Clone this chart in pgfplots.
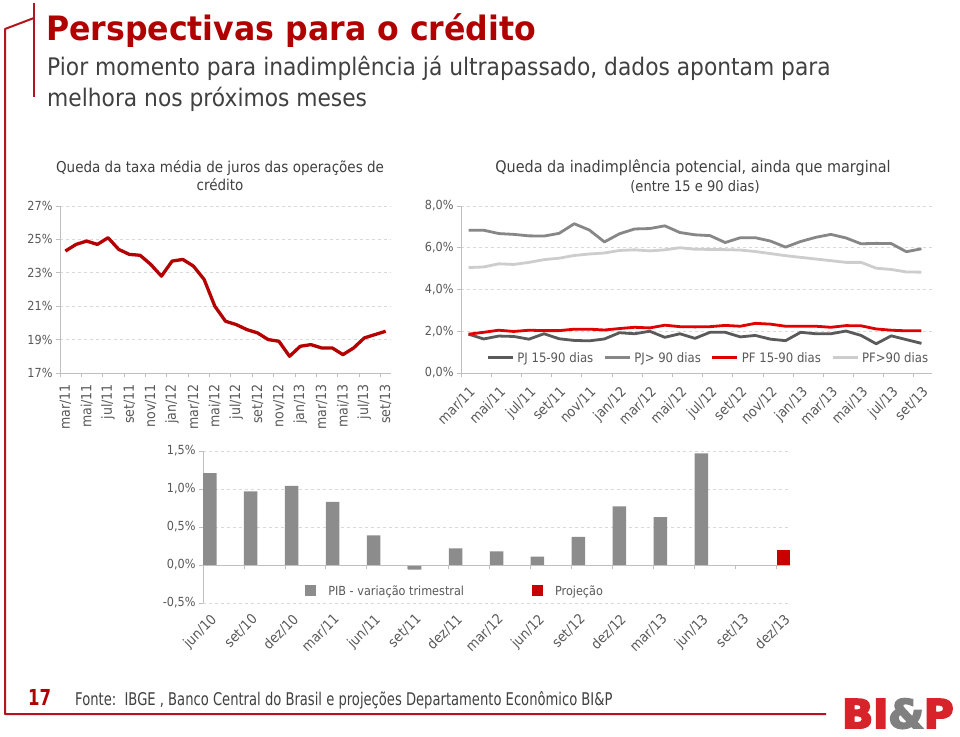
\documentclass[border=0pt]{standalone}
\usepackage{graphicx}
\usepackage{pgfplots}
\pgfplotsset{compat=1.18}
\usepackage{fontspec}
\setmainfont{DejaVu Sans}[FakeStretch=0.9]
\newfontfamily\titlefont{DejaVu Sans}[FakeStretch=0.94]
\newfontfamily\condfont{DejaVu Sans}[FakeStretch=0.75]
\newfontface\logofont{DejaVu Sans Bold}[FakeStretch=1.03, FakeBold=5]
\definecolor{frame}{RGB}{180,20,30}
\definecolor{titlered}{RGB}{176,0,0}
\definecolor{txt}{RGB}{64,64,64}
\definecolor{tickc}{RGB}{89,89,89}
\definecolor{axisgray}{RGB}{191,191,191}
\definecolor{gridgray}{RGB}{217,217,217}
\definecolor{darkred}{RGB}{180,0,0}
\definecolor{brightred}{RGB}{225,0,0}
\definecolor{pjA}{RGB}{90,90,90}
\definecolor{pjB}{RGB}{135,135,135}
\definecolor{pfB}{RGB}{205,205,205}
\definecolor{bargray}{RGB}{140,140,140}
\definecolor{barred}{RGB}{200,0,0}
\definecolor{logored}{RGB}{215,35,42}
\definecolor{logogray}{RGB}{128,128,128}
\pgfplotsset{
  slide/.style={
    scale only axis,
    axis lines*=left,
    axis line style={axisgray, line width=0.8pt},
    ymajorgrids,
    grid style={gridgray, dashed, line width=0.6pt},
    tick style={axisgray, line width=0.8pt},
    major tick length=4pt,
    minor tick length=4pt,
    tick align=outside,
    major x tick style={draw=none},
    yticklabel style={font=\fontsize{12.5}{12.5}\selectfont, text=tickc},
    xticklabel style={font=\fontsize{14}{14}\selectfont, text=tickc},
    clip=false,
  },
}
\pgfplotstableread{
x jur
0 24.3
1 24.7
2 24.9
3 24.7
4 25.1
5 24.4
6 24.1
7 24.05
8 23.5
9 22.8
10 23.7
11 23.8
12 23.4
13 22.6
14 21.0
15 20.1
16 19.9
17 19.6
18 19.4
19 19.0
20 18.9
21 18.0
22 18.6
23 18.7
24 18.5
25 18.5
26 18.1
27 18.5
28 19.1
29 19.3
30 19.5
}\juros
\pgfplotstableread{
x pj15 pj90 pf15 pf90
0 1.86 6.84 1.86 5.05
1 1.63 6.84 1.95 5.08
2 1.77 6.68 2.05 5.23
3 1.75 6.64 1.99 5.20
4 1.62 6.57 2.05 5.30
5 1.88 6.56 2.03 5.43
6 1.64 6.69 2.03 5.50
7 1.56 7.15 2.10 5.63
8 1.54 6.85 2.10 5.70
9 1.63 6.28 2.06 5.75
10 1.93 6.67 2.13 5.87
11 1.88 6.90 2.19 5.90
12 2.00 6.92 2.16 5.85
13 1.71 7.05 2.29 5.90
14 1.88 6.73 2.22 6.00
15 1.66 6.62 2.21 5.93
16 1.95 6.58 2.22 5.92
17 1.95 6.25 2.28 5.91
18 1.73 6.48 2.24 5.89
19 1.80 6.48 2.38 5.82
20 1.62 6.32 2.34 5.72
21 1.55 6.03 2.24 5.62
22 1.95 6.30 2.24 5.54
23 1.88 6.50 2.24 5.46
24 1.88 6.64 2.19 5.38
25 2.01 6.47 2.27 5.30
26 1.80 6.19 2.26 5.30
27 1.40 6.21 2.11 5.02
28 1.78 6.20 2.05 4.96
29 1.60 5.81 2.02 4.84
30 1.42 5.95 2.02 4.83
}\inad
\begin{document}
\begin{tikzpicture}[x=1pt,y=1pt]
\path[use as bounding box, fill=white] (0,0) rectangle (960,736);
% frame lines
\draw[frame, line width=2pt] (34,733) -- (34,639);
\draw[frame, line width=2pt, line join=round] (34,718) -- (5,707) -- (5,22) -- (826,22);
% titles
\node[anchor=base west, text=titlered, font=\titlefont\bfseries\fontsize{33.6}{34}\selectfont, inner sep=0pt] at (46,695) {Perspectivas para o crédito};
\node[anchor=base west, text=txt, font=\fontsize{24.2}{24}\selectfont, inner sep=0pt] at (47,660) {Pior momento para inadimplência já ultrapassado, dados apontam para};
\node[anchor=base west, text=txt, font=\fontsize{24.2}{24}\selectfont, inner sep=0pt] at (47,629) {melhora nos próximos meses};
% chart titles
\node[anchor=base, text=txt, font=\fontsize{15}{15}\selectfont, inner sep=0pt] at (220,563) {Queda da taxa média de juros das operações de};
\node[anchor=base, text=txt, font=\fontsize{15}{15}\selectfont, inner sep=0pt] at (220,545) {crédito};
\node[anchor=base, text=txt, font=\fontsize{16}{16}\selectfont, inner sep=0pt] at (693,563) {Queda da inadimplência potencial, ainda que marginal};
\node[anchor=base, text=txt, font=\fontsize{14.5}{14.5}\selectfont, inner sep=0pt] at (695,544) {(entre 15 e 90 dias)};
% footer
\node[anchor=base west, text=titlered, font=\condfont\bfseries\fontsize{22}{22}\selectfont, inner sep=0pt] at (28,31) {17};
\node[anchor=base west, text=txt, font=\condfont\fontsize{17.5}{17.5}\selectfont, inner sep=0pt] at (75,31) {Fonte:\ \ IBGE , Banco Central do Brasil e projeções Departamento Econômico BI\&P};
\node[anchor=base west, inner sep=0pt, font=\logofont\fontsize{39.5}{39.5}\selectfont] at (842,8) {{\color{logored}BI}{\color{logogray}\&}{\color{logored}P}};
% left chart
\begin{axis}[slide,
  at={(60pt,363pt)}, anchor=south west,
  width=331pt, height=167pt,
  xmin=-0.5, xmax=30.5, ymin=17, ymax=27,
  ytick={17,19,21,23,25,27},
  yticklabels={17\%,19\%,21\%,23\%,25\%,27\%},
  xtick={0,2,...,30},
  xticklabels={mar/11,mai/11,jul/11,set/11,nov/11,jan/12,mar/12,mai/12,jul/12,set/12,nov/12,jan/13,mar/13,mai/13,jul/13,set/13},
  minor xtick={-0.5,1.5,...,29.5},
  xticklabel style={rotate=90, anchor=east, inner sep=1pt, xshift=-6pt},
]
\addplot[darkred, line width=3.3pt, line join=round, no marks] table[x=x, y=jur] {\juros};
\end{axis}
% right chart
\begin{axis}[slide,
  at={(461pt,363pt)}, anchor=south west,
  width=471pt, height=167pt,
  xmin=-0.5, xmax=30.7, ymin=0, ymax=8,
  ytick={0,2,4,6,8},
  yticklabels={{0,0\%},{2,0\%},{4,0\%},{6,0\%},{8,0\%}},
  xtick={0,2,...,30},
  xticklabels={mar/11,mai/11,jul/11,set/11,nov/11,jan/12,mar/12,mai/12,jul/12,set/12,nov/12,jan/13,mar/13,mai/13,jul/13,set/13},
  minor xtick={-0.5,1.5,...,29.5},
  xticklabel style={rotate=45, anchor=north east, inner sep=6pt},
  legend columns=4,
  legend style={at={(0.525,0.09)}, anchor=center, draw=none, fill=none,
    font=\fontsize{13}{13}\selectfont, text=tickc, inner sep=0pt,
    /tikz/every even column/.append style={column sep=8pt},
    /tikz/every odd column/.append style={column sep=1pt}},
  legend image code/.code={\draw[#1, line width=3pt] (0pt,0pt) -- (25pt,0pt);},
]
\addplot[pjA, line width=2.8pt, line join=round, no marks] table[x=x, y=pj15] {\inad};
\addlegendentry{PJ 15-90 dias}
\addplot[pjB, line width=2.8pt, line join=round, no marks] table[x=x, y=pj90] {\inad};
\addlegendentry{PJ> 90 dias}
\addplot[brightred, line width=2.8pt, line join=round, no marks] table[x=x, y=pf15] {\inad};
\addlegendentry{PF 15-90 dias}
\addplot[pfB, line width=2.8pt, line join=round, no marks] table[x=x, y=pf90] {\inad};
\addlegendentry{PF>90 dias}
\end{axis}
% bottom chart
\begin{axis}[slide,
  at={(203pt,133pt)}, anchor=south west,
  width=587pt, height=152pt,
  x axis line style={draw=none},
  xmin=-0.165, xmax=14.165, ymin=-0.5, ymax=1.5,
  ytick={-0.5,0,0.5,1,1.5},
  yticklabels={{-0,5\%},{0,0\%},{0,5\%},{1,0\%},{1,5\%}},
  xtick={0,...,14},
  xticklabels={jun/10,set/10,dez/10,mar/11,jun/11,set/11,dez/11,mar/12,jun/12,set/12,dez/12,mar/13,jun/13,set/13,dez/13},
  xticklabel style={rotate=45, anchor=north east, inner sep=4pt},
  ybar, bar width=13.5pt,
  legend columns=2,
  legend style={at={(0.174,0.079)}, anchor=west, draw=none, fill=none,
    font=\fontsize{12.5}{12.5}\selectfont, text=tickc, inner sep=0pt,
    /tikz/every even column/.append style={column sep=66pt},
    /tikz/every odd column/.append style={column sep=10pt}},
  legend image code/.code={\fill[#1] (0pt,-5.5pt) rectangle (11pt,5.5pt);},
]
\addplot[ybar, bar shift=0pt, fill=bargray, draw=none] coordinates {
(0,1.21) (1,0.97) (2,1.04) (3,0.83) (4,0.39) (5,-0.06) (6,0.22) (7,0.18) (8,0.11) (9,0.37) (10,0.77) (11,0.63) (12,1.47)};
\addlegendentry{PIB - variação trimestral}
\addplot[ybar, bar shift=0pt, fill=barred, draw=none] coordinates {(14,0.20)};
\addlegendentry{Projeção}
\draw[axisgray, line width=0.8pt] (axis cs:-0.165,0) -- (axis cs:14.165,0);
\draw[axisgray, line width=0.8pt]
 (axis cs:0.835,0) -- ++(0pt,-4pt) (axis cs:1.835,0) -- ++(0pt,-4pt)
 (axis cs:2.835,0) -- ++(0pt,-4pt) (axis cs:3.835,0) -- ++(0pt,-4pt)
 (axis cs:4.835,0) -- ++(0pt,-4pt) (axis cs:5.835,0) -- ++(0pt,-4pt)
 (axis cs:6.835,0) -- ++(0pt,-4pt) (axis cs:7.835,0) -- ++(0pt,-4pt)
 (axis cs:8.835,0) -- ++(0pt,-4pt) (axis cs:9.835,0) -- ++(0pt,-4pt)
 (axis cs:10.835,0) -- ++(0pt,-4pt) (axis cs:11.835,0) -- ++(0pt,-4pt)
 (axis cs:12.835,0) -- ++(0pt,-4pt) (axis cs:13.835,0) -- ++(0pt,-4pt);
\end{axis}
\end{tikzpicture}
\end{document}
